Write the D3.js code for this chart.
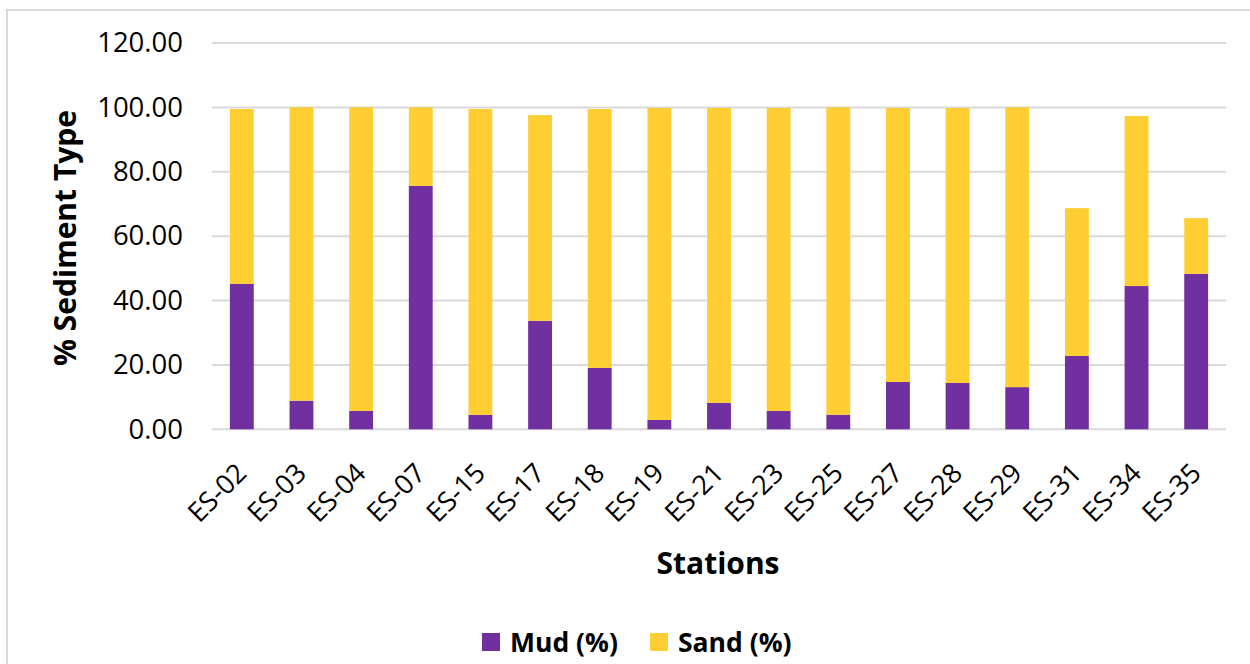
<!DOCTYPE html>
<html>
<head>
<meta charset="utf-8">
<script src="https://cdn.jsdelivr.net/npm/d3@7/dist/d3.min.js"></script>
<style>
  html, body { margin: 0; padding: 0; background: #fff; }
  svg { display: block; }
  text { font-family: "Open Sans", "Noto Sans", sans-serif; fill: #000; }
</style>
</head>
<body>
<svg id="chart" width="1250" height="664"></svg>
<script>
// Sediment composition per sampling station
const stations = ["ES-02","ES-03","ES-04","ES-07","ES-15","ES-17","ES-18","ES-19","ES-21",
                  "ES-23","ES-25","ES-27","ES-28","ES-29","ES-31","ES-34","ES-35"];
const mud  = [45.2, 8.9, 5.7, 75.6, 4.5, 33.7, 19.1, 2.9, 8.2, 5.7, 4.5, 14.7, 14.4, 13.1, 22.8, 44.5, 48.3];
const sand = [54.3, 91.1, 94.3, 24.4, 95.0, 63.9, 80.4, 96.9, 91.6, 94.1, 95.5, 85.1, 85.4, 86.9, 45.9, 52.8, 17.3];
const seriesNames = ["Mud (%)", "Sand (%)"];
const seriesColors = ["#7030A0", "#FECE33"];
const yTicks = [0, 20, 40, 60, 80, 100, 120];

const svg = d3.select("#chart");
const W = 1250, H = 664;

// outer chart frame
svg.append("rect")
  .attr("x", 7).attr("y", 10)
  .attr("width", W + 10).attr("height", H + 10)
  .attr("fill", "#fff").attr("stroke", "#D9D9D9").attr("stroke-width", 2);

const plot = { left: 212, right: 1226, top: 43, bottom: 429.3 };

const x = d3.scaleBand()
  .domain(stations)
  .range([plot.left, plot.right])
  .paddingInner(0.6)
  .paddingOuter(0.3);

const y = d3.scaleLinear()
  .domain([0, 120])
  .range([plot.bottom, plot.top]);

// horizontal gridlines
svg.append("g")
  .selectAll("line")
  .data(yTicks)
  .join("line")
  .attr("x1", plot.left).attr("x2", plot.right)
  .attr("y1", d => y(d)).attr("y2", d => y(d))
  .attr("stroke", "#D9D9D9").attr("stroke-width", 2);

// y-axis tick labels
const yAxis = d3.axisLeft(y).tickValues(yTicks).tickFormat(d3.format(".2f")).tickSize(0).tickPadding(0);
const gy = svg.append("g").attr("transform", `translate(${plot.left - 29},0)`).call(yAxis);
gy.select(".domain").remove();
gy.selectAll("text")
  .attr("font-size", 27.5)
  .attr("font-family", "\"Open Sans\", sans-serif")
  .attr("fill", "#000");

// stacked bars
const rows = stations.map((s, i) => ({ station: s, mud: mud[i], sand: sand[i] }));
const stack = d3.stack().keys(["mud", "sand"]);
const layers = stack(rows);

svg.append("g")
  .selectAll("g")
  .data(layers)
  .join("g")
  .attr("fill", (d, i) => seriesColors[i])
  .selectAll("rect")
  .data(d => d)
  .join("rect")
  .attr("x", d => x(d.data.station))
  .attr("width", x.bandwidth())
  .attr("y", d => y(d[1]))
  .attr("height", d => y(d[0]) - y(d[1]));

// x-axis category labels, rotated
svg.append("g")
  .selectAll("text")
  .data(stations)
  .join("text")
  .attr("transform", d => `translate(${x(d) + x.bandwidth() / 2 - 1},${plot.bottom + 38}) rotate(-45)`)
  .attr("text-anchor", "end")
  .attr("dominant-baseline", "central")
  .attr("font-size", 27)
  .text(d => d);

// axis titles
svg.append("text")
  .attr("x", 718).attr("y", 574)
  .attr("text-anchor", "middle")
  .attr("font-size", 30).attr("font-weight", "bold")
  .text("Stations");

svg.append("text")
  .attr("transform", "translate(76,238) rotate(-90)")
  .attr("text-anchor", "middle")
  .attr("font-size", 30).attr("font-weight", "bold")
  .text("% Sediment Type");

// legend
const legendItems = [
  { name: seriesNames[0], color: seriesColors[0], x: 482 },
  { name: seriesNames[1], color: seriesColors[1], x: 650 }
];
const lg = svg.append("g").selectAll("g").data(legendItems).join("g")
  .attr("transform", d => `translate(${d.x},633)`);
lg.append("rect").attr("width", 18).attr("height", 18).attr("fill", d => d.color);
lg.append("text")
  .attr("x", 28).attr("y", 9)
  .attr("dominant-baseline", "central")
  .attr("font-size", 26.5).attr("font-weight", "bold")
  .text(d => d.name);
</script>
</body>
</html>
